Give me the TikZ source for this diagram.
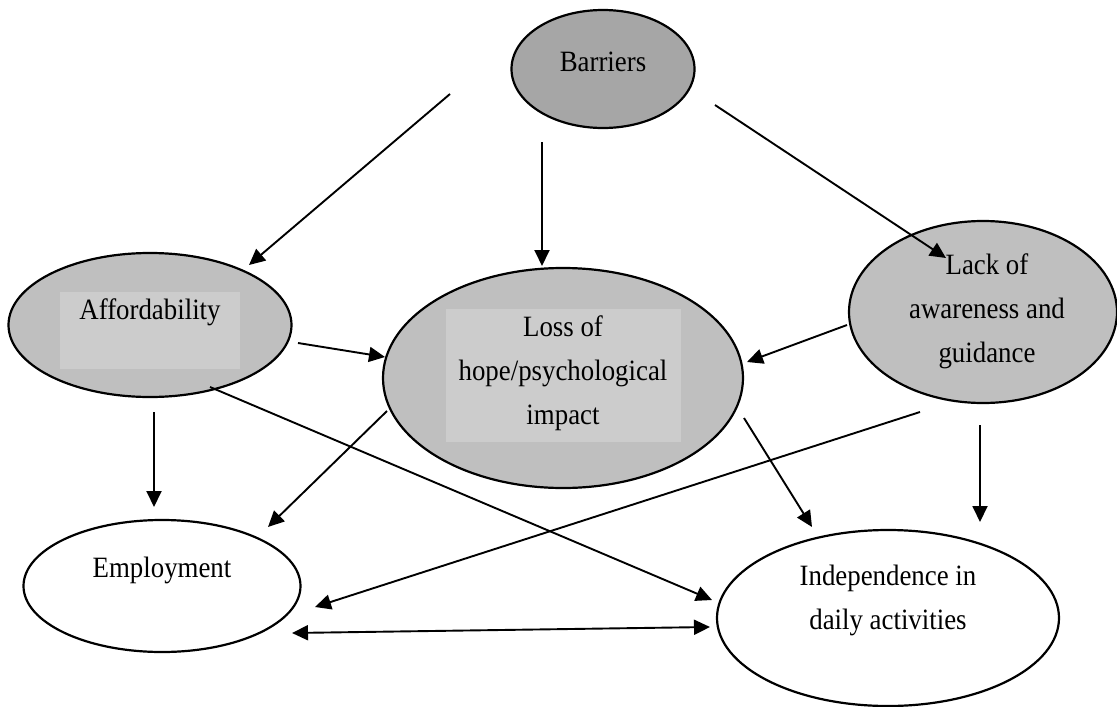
\documentclass[tikz,border=0pt]{standalone}
\usepackage{fontspec}
\setmainfont{Liberation Serif}[FakeStretch=0.91]
\usetikzlibrary{shapes.geometric,arrows.meta}
\tikzset{
  oval/.style={ellipse,draw=black,line width=2.2pt,inner sep=0pt},
  darkoval/.style={oval,fill=gray!70},
  midoval/.style={oval,fill=gray!50},
  whiteoval/.style={oval,fill=white},
  lightbox/.style={draw=none,fill=gray!40,inner sep=0pt},
  label/.style={font=\fontsize{29.5}{44}\selectfont,align=center,inner sep=0pt},
  conn/.style={line width=1.9pt,-{Triangle[length=16pt,width=15pt]}},
  bconn/.style={line width=1.9pt,{Triangle[length=16pt,width=15pt]}-{Triangle[length=16pt,width=15pt]}}
}
\begin{document}
\begin{tikzpicture}[x=1pt,y=-1pt]
\useasboundingbox (0,0) rectangle (1117,707);
% ellipses
\node[darkoval,minimum width=183pt,minimum height=118pt] (bar) at (603,69) {};
\node[midoval,minimum width=283pt,minimum height=144pt] (aff) at (150,325) {};
\node[midoval,minimum width=360pt,minimum height=220pt] (loss) at (563,378) {};
\node[midoval,minimum width=268pt,minimum height=182pt] (lack) at (983,312) {};
\node[whiteoval,minimum width=277pt,minimum height=132pt] (emp) at (162,586) {};
\node[whiteoval,minimum width=342pt,minimum height=176pt] (ind) at (888,618) {};
% inner boxes
\node[lightbox,minimum width=180pt,minimum height=77pt] (affbox) at (150,330.5) {};
\node[lightbox,minimum width=235pt,minimum height=133pt] (lossbox) at (563.5,375.5) {};
% texts
\node[label] (bart) at (603,62) {Barriers};
\node[label] (afft) at (150,312) {Affordability};
\node[label] (losst) at (563,373) {Loss of\\hope/psychological\\impact};
\node[label] (lackt) at (987,311) {Lack of\\awareness and\\guidance};
\node[label] (empt) at (162,570) {Employment};
\node[label] (indt) at (888,600) {Independence in\\daily activities};
% connector end points
\coordinate (a1s) at (450,94);   \coordinate (a1e) at (249,265);
\coordinate (a2s) at (542,142);  \coordinate (a2e) at (542,266);
\coordinate (a3s) at (715,105);  \coordinate (a3e) at (946,258);
\coordinate (a4s) at (298,343);  \coordinate (a4e) at (385,357);
\coordinate (a5s) at (847,325);  \coordinate (a5e) at (747,362);
\coordinate (a6s) at (154,412);  \coordinate (a6e) at (154,507);
\coordinate (a7s) at (387,411);  \coordinate (a7e) at (268,527);
\coordinate (a8s) at (210,387);  \coordinate (a8e) at (712,600);
\coordinate (a9s) at (744,418);  \coordinate (a9e) at (812,527);
\coordinate (a10s) at (920,412); \coordinate (a10e) at (315,607);
\coordinate (a11s) at (980,425); \coordinate (a11e) at (980,522);
\coordinate (a12s) at (292,633); \coordinate (a12e) at (710,627);
% connectors
\draw[conn] (a1s) -- (a1e);
\draw[conn] (a2s) -- (a2e);
\draw[conn] (a3s) -- (a3e);
\draw[conn] (a4s) -- (a4e);
\draw[conn] (a5s) -- (a5e);
\draw[conn] (a6s) -- (a6e);
\draw[conn] (a7s) -- (a7e);
\draw[conn] (a8s) -- (a8e);
\draw[conn] (a9s) -- (a9e);
\draw[conn] (a10s) -- (a10e);
\draw[conn] (a11s) -- (a11e);
\draw[bconn] (a12s) -- (a12e);
\end{tikzpicture}
\end{document}
